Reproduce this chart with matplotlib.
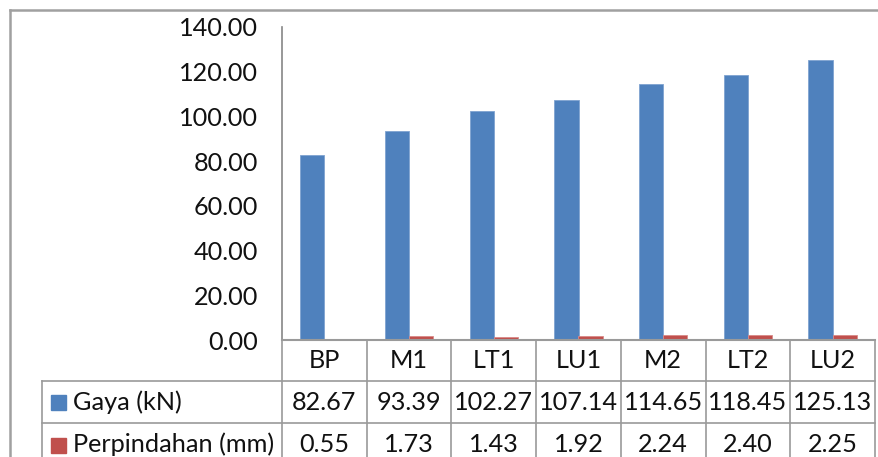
import matplotlib
matplotlib.use("Agg")
import matplotlib.pyplot as plt
from matplotlib.lines import Line2D
from matplotlib.patches import Rectangle
import numpy as np

categories = ["BP", "M1", "LT1", "LU1", "M2", "LT2", "LU2"]
gaya = [82.67, 93.39, 102.27, 107.14, 114.65, 118.45, 125.13]
perpindahan = [0.55, 1.73, 1.43, 1.92, 2.24, 2.40, 2.25]
series_names = ["Gaya (kN)", "Perpindahan (mm)"]
yticks = [0, 20, 40, 60, 80, 100, 120, 140]

W, H = 879, 457
fig = plt.figure(figsize=(W / 100, H / 100), dpi=100)
plt.rcParams['font.family'] = ['Lato', 'DejaVu Sans']
FS = 18.2

def px(x):
    return x / W

def py(y):
    return 1 - y / H

blue = "#4F81BD"
red = "#C0504D"
gridc = "#9A9A9A"

x0, x1 = 282, 875
ytop, ybot = 27, 340
ax = fig.add_axes([px(x0), py(ybot), px(x1) - px(x0), (ybot - ytop) / H])
n = len(categories)
xs = np.arange(n)
w = 0.285
ax.bar(xs - w / 2, gaya, w, color=blue, edgecolor="#7FA3D0", linewidth=0.6)
ax.bar(xs + w / 2, perpindahan, w, color=red, edgecolor="#D88A88", linewidth=0.6)
ax.set_xlim(-0.5, n - 0.5)
ax.set_ylim(0, 140)
ax.set_yticks(yticks)
ax.set_yticklabels([f"{v:.2f}" for v in yticks], fontsize=FS, color="#111111")
ax.tick_params(axis='y', length=0, pad=17)
ax.set_xticks([])
for s in ["top", "right", "bottom"]:
    ax.spines[s].set_visible(False)
ax.spines["left"].set_color("#868686")
ax.spines["left"].set_linewidth(1.2)

# data table
colw = (x1 - x0) / n
rows = [340, 381, 423, 466]
lx = 42

def hline(y, xa, xb, lw=1.2):
    fig.add_artist(Line2D([px(xa), px(xb)], [py(y), py(y)], color=gridc, lw=lw))

def vline(x, ya, yb, lw=1.2):
    fig.add_artist(Line2D([px(x), px(x)], [py(ya), py(yb)], color=gridc, lw=lw))

hline(rows[0], x0, x1, 1.5)
hline(rows[1], lx, x1)
hline(rows[2], lx, x1)
for i in range(n + 1):
    vline(x0 + i * colw, rows[0], rows[3])
vline(lx, rows[1], rows[3])

tc = "#111111"
for i, c in enumerate(categories):
    cx = x0 + (i + 0.5) * colw
    fig.text(px(cx), py((rows[0] + rows[1]) / 2), c, ha="center", va="center", fontsize=FS, color=tc)
    fig.text(px(cx), py((rows[1] + rows[2]) / 2), f"{gaya[i]:.2f}", ha="center", va="center", fontsize=FS, color=tc)
    fig.text(px(cx), py((rows[2] + rows[3]) / 2), f"{perpindahan[i]:.2f}", ha="center", va="center", fontsize=FS, color=tc)

for r, (name, col) in enumerate(zip(series_names, [blue, red])):
    yc = (rows[r + 1] + rows[r + 2]) / 2
    fig.add_artist(Rectangle((px(51), py(yc + 8)), 15 / W, 15 / H, color=col))
    fig.text(px(73), py(yc), name, ha="left", va="center", fontsize=FS, color=tc)

# outer chart border
fig.add_artist(Line2D([px(10), px(10)], [py(10), py(470)], color="#A0A0A0", lw=1.8))
fig.add_artist(Line2D([px(10), px(890)], [py(10), py(10)], color="#A0A0A0", lw=1.8))

fig.savefig("out.png", dpi=100)
